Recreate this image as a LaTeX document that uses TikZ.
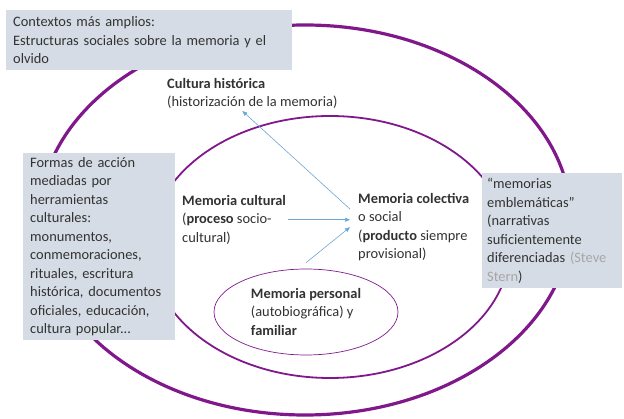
\documentclass[tikz,border=0pt]{standalone}
\usepackage{fontspec}
\setmainfont{Carlito}
\usetikzlibrary{positioning, arrows.meta, calc, shapes.geometric}
\definecolor{ringpurple}{RGB}{128,24,140}
\definecolor{boxgray}{RGB}{214,220,229}
\definecolor{arrowblue}{RGB}{110,165,215}
\definecolor{txtgray}{RGB}{50,50,50}
\definecolor{refgray}{RGB}{166,166,166}

\begin{document}
\begin{tikzpicture}[
    x=1pt, y=-1pt,
    >={Triangle[length=5pt, width=4pt]},
    every node/.style={font=\fontsize{14.4}{18.5}\selectfont, text=txtgray},
    infobox/.style={fill=boxgray, anchor=north west, align=left, inner xsep=7pt, inner ysep=4pt},
    txt/.style={align=left, anchor=north west, inner sep=2pt},
    ring/.style={draw=ringpurple},
    blarrow/.style={->, draw=arrowblue, line width=0.6pt}
]

% fixed frame of the picture
\useasboundingbox (0,0) rectangle (624,419);

% Rings
\draw[ring, line width=3.2pt] (305,220) ellipse [x radius=266, y radius=195];
\draw[ring, line width=1.8pt] (330,247) ellipse [x radius=180, y radius=131];
\node[ring, line width=0.7pt, ellipse, inner sep=0pt, minimum width=184, minimum height=86, align=left] (pers) at (306,312)
    {\textbf{Memoria personal}\\(autobiográfica) y\\\textbf{familiar}};

% Side boxes
\node[infobox, text width=272, minimum height=60] (ctx) at (6,10)
    {Contextos más amplios:\\Estructuras sociales sobre la memoria y el\\olvido};
\node[infobox, text width=138, minimum height=187] (forms) at (23,153)
    {Formas de acción\\mediadas por\\herramientas\\culturales:\\monumentos,\\conmemoraciones,\\rituales, escritura\\histórica, documentos\\oficiales, educación,\\cultura popular...};
\node[infobox, inner xsep=5pt, text width=130, minimum height=115] (embl) at (482,173)
    {“memorias\\emblemáticas”\\(narrativas\\suficientemente\\diferenciadas {\color{refgray}(Steve}\\{\color{refgray}Stern})};

% Inner labels
\node[txt] (cultura) at (165,76) {\textbf{Cultura histórica}\\(historización de la memoria)};
\node[txt] (mcult) at (180,193) {\textbf{Memoria cultural}\\(\textbf{proceso} socio-\\cultural)};
\node[txt, inner xsep=8pt] (colect) at (350,191) {\textbf{Memoria colectiva}\\o social\\(\textbf{producto} siempre\\provisional)};

% Arrows
\draw[blarrow] ($(colect.north west)!0.25!(colect.south west)$) -- ([xshift=-10pt]cultura.south);
\draw[blarrow] (mcult.east) -- (mcult.east -| colect.west);
\draw[blarrow] ([yshift=6pt]pers.north) -- (colect.west);

\end{tikzpicture}
\end{document}
